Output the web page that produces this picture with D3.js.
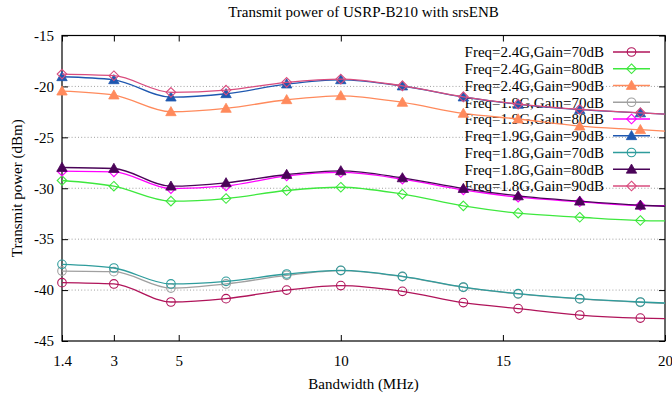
<!DOCTYPE html>
<html>
<head>
<meta charset="utf-8">
<script src="https://cdn.jsdelivr.net/npm/d3@7"></script>
<style>
  html, body { margin: 0; padding: 0; background: #fff; }
  svg text { font-family: "Liberation Serif", "Times New Roman", serif; fill: #000; }
</style>
</head>
<body>
<svg id="chart" width="672" height="399"></svg>
<script>
// ---- data ----
const bandwidth = [1.4, 3, 4.76, 6.46, 8.33, 10, 11.9, 13.78, 15.47, 17.37, 19.24, 20];
const markerCount = 11; // markers at the first 11 samples; curve continues to 20 MHz

const seriesNames = [
  "Freq=2.4G,Gain=70dB", "Freq=2.4G,Gain=80dB", "Freq=2.4G,Gain=90dB",
  "Freq=1.9G,Gain=70dB", "Freq=1.9G,Gain=80dB", "Freq=1.9G,Gain=90dB",
  "Freq=1.8G,Gain=70dB", "Freq=1.8G,Gain=80dB", "Freq=1.8G,Gain=90dB"
];
const f24g70 = [-39.27, -39.40, -41.17, -40.84, -40.00, -39.56, -40.12, -41.23, -41.82, -42.45, -42.75, -42.81];
const f24g80 = [-29.24, -29.80, -31.27, -31.01, -30.22, -29.90, -30.58, -31.73, -32.45, -32.85, -33.17, -33.21];
const f24g90 = [-20.46, -20.85, -22.49, -22.16, -21.31, -20.92, -21.57, -22.65, -23.20, -23.90, -24.25, -24.40];
const f19g70 = [-38.13, -38.19, -39.80, -39.40, -38.55, -38.08, -38.68, -39.74, -40.38, -40.87, -41.20, -41.30];
const f19g80 = [-28.32, -28.39, -30.03, -29.77, -28.79, -28.45, -29.10, -30.16, -30.88, -31.33, -31.70, -31.72];
const f19g90 = [-19.05, -19.35, -21.05, -20.72, -19.77, -19.35, -19.96, -21.04, -21.76, -22.28, -22.60, -22.72];
const f18g70 = [-37.47, -37.83, -39.40, -39.14, -38.42, -38.06, -38.65, -39.70, -40.35, -40.84, -41.17, -41.27];
const f18g80 = [-27.96, -28.06, -29.80, -29.47, -28.65, -28.29, -28.98, -30.03, -30.75, -31.27, -31.67, -31.77];
const f18g90 = [-18.79, -18.95, -20.58, -20.36, -19.60, -19.28, -19.94, -21.02, -21.74, -22.26, -22.59, -22.72];

const seriesValues = [f24g70, f24g80, f24g90, f19g70, f19g80, f19g90, f18g70, f18g80, f18g90];
const seriesColors = ["#b0145a", "#3ee83e", "#ff8a5c", "#a0a0a0", "#ff00ff", "#1f58b0", "#2e9c9c", "#4a0458", "#d94c7e"];
const seriesMarkers = ["circle", "diamond", "triangle", "circle", "diamond", "triangle", "circle", "triangle", "diamond"];

const xTicks = [1.4, 3, 5, 10, 15, 20];
const yTicks = [-45, -40, -35, -30, -25, -20, -15];

const titleText = "Transmit power of USRP-B210 with srsENB";
const xLabel = "Bandwidth (MHz)";
const yLabel = "Transmit power (dBm)";

// ---- layout ----
const svg = d3.select("#chart");
const L = 62, R = 665, T = 35.5, B = 341;
const x = d3.scaleLinear().domain([1.4, 20]).range([L, R]);
const y = d3.scaleLinear().domain([-45, -15]).range([B, T]);
const FS = 15;

// grid
svg.append("g").selectAll("line")
  .data(yTicks.filter(v => v > -45 && v < -15))
  .join("line")
  .attr("x1", L).attr("x2", R)
  .attr("y1", d => y(d)).attr("y2", d => y(d))
  .attr("stroke", "#a0a0a0").attr("stroke-width", 1)
  .attr("stroke-dasharray", "1,2.2");

// axes
const fmtX = d => String(d);
const gB = svg.append("g").attr("transform", `translate(0,${B})`)
  .call(d3.axisBottom(x).tickValues(xTicks).tickFormat(fmtX).tickSizeInner(-6).tickSizeOuter(0).tickPadding(14));
const gT = svg.append("g").attr("transform", `translate(0,${T})`)
  .call(d3.axisTop(x).tickValues(xTicks).tickFormat("").tickSizeInner(-6).tickSizeOuter(0));
const gL = svg.append("g").attr("transform", `translate(${L},0)`)
  .call(d3.axisLeft(y).tickValues(yTicks).tickFormat(d => String(d)).tickSizeInner(-6).tickSizeOuter(0).tickPadding(8));
const gR = svg.append("g").attr("transform", `translate(${R},0)`)
  .call(d3.axisRight(y).tickValues(yTicks).tickFormat("").tickSizeInner(-6).tickSizeOuter(0));
[gB, gT, gL, gR].forEach(g => {
  g.select(".domain").remove();
  g.selectAll(".tick line").attr("stroke", "#000");
  g.selectAll(".tick text").attr("font-family", "Liberation Serif").attr("font-size", FS).attr("fill", "#000");
});
gB.selectAll(".tick text").attr("dy", "0.35em").attr("y", 20);

// border
svg.append("rect").attr("x", L).attr("y", T).attr("width", R - L).attr("height", B - T)
  .attr("fill", "none").attr("stroke", "#000").attr("stroke-width", 1.2);

// titles
svg.append("text").attr("x", (L + R) / 2).attr("y", 17).attr("text-anchor", "middle")
  .attr("font-size", FS).text(titleText);
svg.append("text").attr("x", (L + R) / 2).attr("y", 389).attr("text-anchor", "middle")
  .attr("font-size", FS).text(xLabel);
svg.append("text").attr("transform", `translate(22,${(T + B) / 2}) rotate(-90)`)
  .attr("text-anchor", "middle").attr("font-size", FS).text(yLabel);

// marker drawing
function drawMarker(g, type, color, cx, cy) {
  if (type === "circle") {
    g.append("circle").attr("cx", cx).attr("cy", cy).attr("r", 4.3)
      .attr("fill", "none").attr("stroke", color).attr("stroke-width", 1.1);
  } else if (type === "diamond") {
    const s = 4.8;
    g.append("path").attr("d", `M${cx},${cy - s}L${cx + s},${cy}L${cx},${cy + s}L${cx - s},${cy}Z`)
      .attr("fill", "none").attr("stroke", color).attr("stroke-width", 1.1);
  } else {
    const s = 5.2;
    g.append("path").attr("d", `M${cx},${cy - s}L${cx + s},${cy + s * 0.75}L${cx - s},${cy + s * 0.75}Z`)
      .attr("fill", color).attr("stroke", color).attr("stroke-width", 0.8);
  }
}

// legend (drawn before data, lines pass over text as in reference)
const legX = 604, legY0 = 52, legDY = 16.75;
const leg = svg.append("g");
seriesNames.forEach((name, i) => {
  const yy = legY0 + i * legDY;
  leg.append("text").attr("x", legX).attr("y", yy).attr("dy", "0.35em")
    .attr("text-anchor", "end").attr("font-size", FS).text(name);
  leg.append("line").attr("x1", 613).attr("x2", 650).attr("y1", yy).attr("y2", yy)
    .attr("stroke", seriesColors[i]).attr("stroke-width", 1.3);
  drawMarker(leg, seriesMarkers[i], seriesColors[i], 631.5, yy);
});

// series
const line = d3.line().x(d => x(d[0])).y(d => y(d[1])).curve(d3.curveMonotoneX);
seriesValues.forEach((vals, i) => {
  const pts = bandwidth.map((b, k) => [b, vals[k]]);
  const g = svg.append("g");
  g.append("path").attr("d", line(pts)).attr("fill", "none")
    .attr("stroke", seriesColors[i]).attr("stroke-width", 1.3);
  pts.slice(0, markerCount).forEach(p => drawMarker(g, seriesMarkers[i], seriesColors[i], x(p[0]), y(p[1])));
});
</script>
</body>
</html>
